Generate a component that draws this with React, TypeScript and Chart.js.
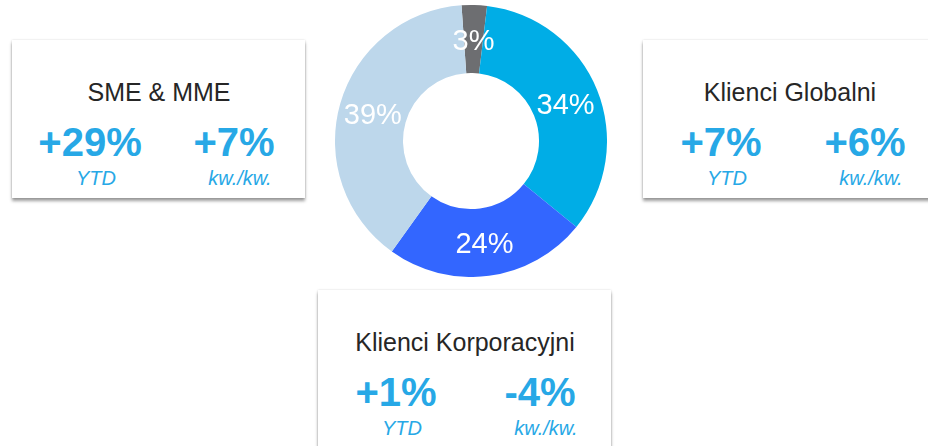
import React, { useEffect, useRef } from "react";
import { Chart, registerables } from "chart.js";

Chart.register(...registerables);

// Donut data
const segmentLabels = ["Inne", "Klienci Globalni", "Klienci Korporacyjni", "SME & MME"];
const segmentShares = [3, 34, 24, 39];
const segmentColors = ["#6D6E71", "#00ADE6", "#3366FF", "#BDD7EB"];

// Box data
const boxTitles = ["SME & MME", "Klienci Globalni", "Klienci Korporacyjni"];
const boxYtd = ["+29%", "+7%", "+1%"];
const boxQoq = ["+7%", "+6%", "-4%"];
const ytdLabel = "YTD";
const qoqLabel = "kw./kw.";

// Box placement (style only)
const boxPositions = [
  { left: 12, top: 40 },
  { left: 643, top: 40 },
  { left: 318, top: 290 },
];

const FONT = "Arial, 'Liberation Sans', Helvetica, sans-serif";
const BLUE = "#27A8E6";

const labelPlugin = {
  id: "sliceLabels",
  afterDatasetsDraw(chart: any) {
    const { ctx } = chart;
    const meta = chart.getDatasetMeta(0);
    const data = chart.data.datasets[0].data as number[];
    ctx.save();
    ctx.fillStyle = "#FFFFFF";
    ctx.font = `29px ${FONT}`;
    ctx.textAlign = "center";
    ctx.textBaseline = "middle";
    meta.data.forEach((arc: any, i: number) => {
      const p = arc.tooltipPosition();
      ctx.fillText(`${data[i]}%`, p.x, p.y + 3);
    });
    ctx.restore();
  },
};

function Donut() {
  const ref = useRef<HTMLCanvasElement>(null);
  useEffect(() => {
    if (!ref.current) return;
    const chart = new Chart(ref.current, {
      type: "doughnut",
      data: {
        labels: segmentLabels,
        datasets: [
          {
            data: segmentShares,
            backgroundColor: segmentColors,
            borderWidth: 0,
            hoverOffset: 0,
          },
        ],
      },
      options: {
        animation: false,
        responsive: false,
        maintainAspectRatio: false,
        cutout: "50%",
        rotation: -4,
        layout: { padding: 0 },
        plugins: {
          legend: { display: false },
          tooltip: { enabled: false },
        },
        events: [],
      },
      plugins: [labelPlugin],
    });
    return () => chart.destroy();
  }, []);
  return (
    <canvas
      ref={ref}
      width={272}
      height={272}
      style={{ position: "absolute", left: 335, top: 5, width: 272, height: 272 }}
    />
  );
}

function Box({ i }: { i: number }) {
  const pos = boxPositions[i];
  const W = 293;
  const H = 158;
  const txt = (
    content: string,
    cx: number,
    cy: number,
    size: number,
    extra: React.CSSProperties
  ) => (
    <div
      style={{
        position: "absolute",
        left: cx - 120,
        width: 240,
        top: cy - size / 2,
        height: size,
        lineHeight: `${size}px`,
        fontSize: size,
        textAlign: "center",
        whiteSpace: "nowrap",
        fontFamily: FONT,
        ...extra,
      }}
    >
      {content}
    </div>
  );
  return (
    <div
      style={{
        position: "absolute",
        left: pos.left,
        top: pos.top,
        width: W,
        height: H,
        background: "#FFFFFF",
        boxShadow: "0 3px 3px rgba(0,0,0,0.38), 0 0 2px rgba(0,0,0,0.15)",
      }}
    >
      {txt(boxTitles[i], 147, 52, 25, { color: "#262626" })}
      {txt(boxYtd[i], 78, 102, 40, { color: BLUE, fontWeight: "bold" })}
      {txt(boxQoq[i], 222, 102, 40, { color: BLUE, fontWeight: "bold" })}
      {txt(ytdLabel, 84, 138, 20, { color: BLUE, fontStyle: "italic" })}
      {txt(qoqLabel, 228, 138, 20, { color: BLUE, fontStyle: "italic" })}
    </div>
  );
}

export default function App() {
  return (
    <div
      style={{
        position: "fixed",
        left: 0,
        top: 0,
        width: 928,
        height: 446,
        overflow: "hidden",
        background: "#FFFFFF",
      }}
    >
      {boxTitles.map((_, i) => (
        <Box key={i} i={i} />
      ))}
      <Donut />
    </div>
  );
}
